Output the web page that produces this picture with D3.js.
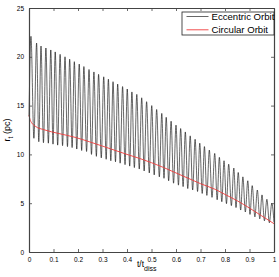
<!DOCTYPE html>
<html><head><meta charset="utf-8">
<script src="https://cdn.jsdelivr.net/npm/d3@7"></script>
<style>
html,body{margin:0;padding:0;background:#fff;}
svg{display:block;font-family:"Liberation Sans",Arial,sans-serif;}
</style></head>
<body><svg id="c" width="279" height="277"></svg>
<script>
// ---- data ----
const xTicks = [0,0.1,0.2,0.3,0.4,0.5,0.6,0.7,0.8,0.9,1];
const xTickLabels = ["0","0.1","0.2","0.3","0.4","0.5","0.6","0.7","0.8","0.9","1"];
const yTicks = [0,5,10,15,20,25];
const yTickLabels = ["0","5","10","15","20","25"];

// Eccentric orbit: start, apocentre (peak) and pericentre (trough) values
const eccStart = [0, 13.9];
const peakT = [0.008,0.031,0.049,0.069,0.089,0.107,0.127,0.147,0.166,0.185,
  0.205,0.224,0.245,0.265,0.284,0.305,0.324,0.343,0.362,0.382,
  0.401,0.420,0.440,0.460,0.480,0.501,0.521,0.542,0.560,0.580,
  0.600,0.619,0.638,0.658,0.678,0.697,0.716,0.736,0.758,0.777,
  0.796,0.815,0.836,0.854,0.873,0.893,0.911,0.932,0.951,0.971,0.991];
const peakR = [22.1,21.4,21.1,20.9,20.7,20.5,20.25,20.0,19.75,19.5,
  19.25,19.0,18.7,18.45,18.2,17.95,17.7,17.45,17.2,16.95,
  16.7,16.4,16.15,15.8,15.4,15.0,14.6,14.2,13.8,13.4,
  13.0,12.65,12.3,11.9,11.55,11.15,10.8,10.45,10.1,9.7,
  9.35,9.0,8.6,8.15,7.7,7.3,6.8,6.35,5.85,5.4,5.0];
const troughT = [0.020,0.040,0.059,0.079,0.098,0.117,0.137,0.157,0.176,0.195,
  0.215,0.235,0.255,0.275,0.295,0.315,0.334,0.353,0.372,0.392,
  0.411,0.430,0.450,0.470,0.491,0.511,0.532,0.551,0.570,0.590,
  0.610,0.629,0.648,0.668,0.688,0.707,0.726,0.747,0.768,0.787,
  0.806,0.826,0.845,0.864,0.883,0.902,0.922,0.942,0.961,0.981,1.000];
const troughR = [11.65,11.3,11.2,11.15,11.05,10.95,10.9,10.8,10.7,10.55,
  10.4,10.3,10.0,9.8,9.65,9.5,9.35,9.25,9.1,8.95,
  8.8,8.65,8.5,8.3,8.1,7.9,7.7,7.55,7.3,7.05,
  6.85,6.7,6.5,6.35,6.2,6.0,5.8,5.6,5.35,5.15,
  4.95,4.75,4.55,4.3,4.1,3.85,3.6,3.4,3.2,3.0,3.05];

// Circular orbit
const circT = [0,0.004,0.012,0.025,0.065,0.118,0.188,0.246,0.3,0.4,0.45,0.5,0.55,0.6,0.65,0.7,0.76,0.8,0.85,0.9,0.95,1.0];
const circR = [14.0,13.6,13.2,12.9,12.5,12.16,11.75,11.3,10.85,10.0,9.6,9.15,8.65,8.1,7.55,7.0,6.42,5.9,5.25,4.5,3.7,2.9];

const seriesNames = ["Eccentric Orbit","Circular Orbit"];

// ---- layout ----
const svg = d3.select("#c");
const L = 29, R = 274, T = 8, B = 252;
const x = d3.scaleLinear().domain([0,1]).range([L,R]);
const y = d3.scaleLinear().domain([0,25]).range([B,T]);

const eccPts = [eccStart];
for (let i = 0; i < peakT.length; i++) {
  eccPts.push([peakT[i], peakR[i]]);
  eccPts.push([troughT[i], troughR[i]]);
}
const circPts = circT.map((t,i)=>[t,circR[i]]);

const line = d3.line().x(d=>x(d[0])).y(d=>y(d[1])).curve(d3.curveMonotoneX);

const eccStyle = {stroke:"#000", width:0.6};
const circStyle = {stroke:"#f03c3c", width:0.9};

svg.append("path").attr("d", line(eccPts)).attr("fill","none")
  .attr("stroke", eccStyle.stroke).attr("stroke-width", eccStyle.width);
svg.append("path").attr("d", line(circPts)).attr("fill","none")
  .attr("stroke", circStyle.stroke).attr("stroke-width", circStyle.width);

// axes (box, inward ticks on all sides)
const axCol = "#444";
const tl = 3;
const gx = svg.append("g").attr("transform",`translate(0,${B})`)
  .call(d3.axisBottom(x).tickValues(xTicks).tickFormat((d,i)=>xTickLabels[i]).tickSizeInner(-tl).tickSizeOuter(0).tickPadding(5));
const gxt = svg.append("g").attr("transform",`translate(0,${T})`)
  .call(d3.axisTop(x).tickValues(xTicks).tickFormat("").tickSizeInner(-tl).tickSizeOuter(0));
const gy = svg.append("g").attr("transform",`translate(${L},0)`)
  .call(d3.axisLeft(y).tickValues(yTicks).tickFormat((d,i)=>yTickLabels[i]).tickSizeInner(-tl).tickSizeOuter(0).tickPadding(5));
const gyr = svg.append("g").attr("transform",`translate(${R},0)`)
  .call(d3.axisRight(y).tickValues(yTicks).tickFormat("").tickSizeInner(-tl).tickSizeOuter(0));
[gx,gxt,gy,gyr].forEach(g=>{
  g.selectAll("path.domain").attr("stroke",axCol).attr("stroke-width",1.2);
  g.selectAll(".tick line").attr("stroke",axCol).attr("stroke-width",0.8);
  g.selectAll(".tick text").attr("fill","#000").style("font-size","6.5px")
    .style("font-family","'Liberation Sans',Arial,sans-serif");
});

// axis labels
const xl = svg.append("text").attr("x",137).attr("y",267).style("font-size","8.5px").attr("fill","#000");
xl.append("tspan").text("t/t");
xl.append("tspan").attr("dy",4).style("font-size","7px").text("diss");

const yl = svg.append("text").attr("transform","translate(10,130) rotate(-90)")
  .attr("text-anchor","middle").style("font-size","9px").attr("fill","#000");
yl.append("tspan").text("r");
yl.append("tspan").attr("dy",3).style("font-size","6.5px").text("t");
yl.append("tspan").attr("dy",-3).text(" (pc)");

// legend
const lg = svg.append("g");
lg.append("rect").attr("x",182).attr("y",12).attr("width",92).attr("height",23)
  .attr("fill","#fff").attr("stroke","#222").attr("stroke-width",0.8);
const legStyles = [eccStyle, circStyle];
seriesNames.forEach((n,i)=>{
  const yy = 16.5 + i*13.3;
  lg.append("line").attr("x1",186.5).attr("x2",208.5).attr("y1",yy).attr("y2",yy)
    .attr("stroke",legStyles[i].stroke).attr("stroke-width",legStyles[i].width);
  lg.append("text").attr("x",211.5).attr("y",yy+3.3).style("font-size","9.6px").attr("fill","#000").text(n);
});
</script></body></html>
